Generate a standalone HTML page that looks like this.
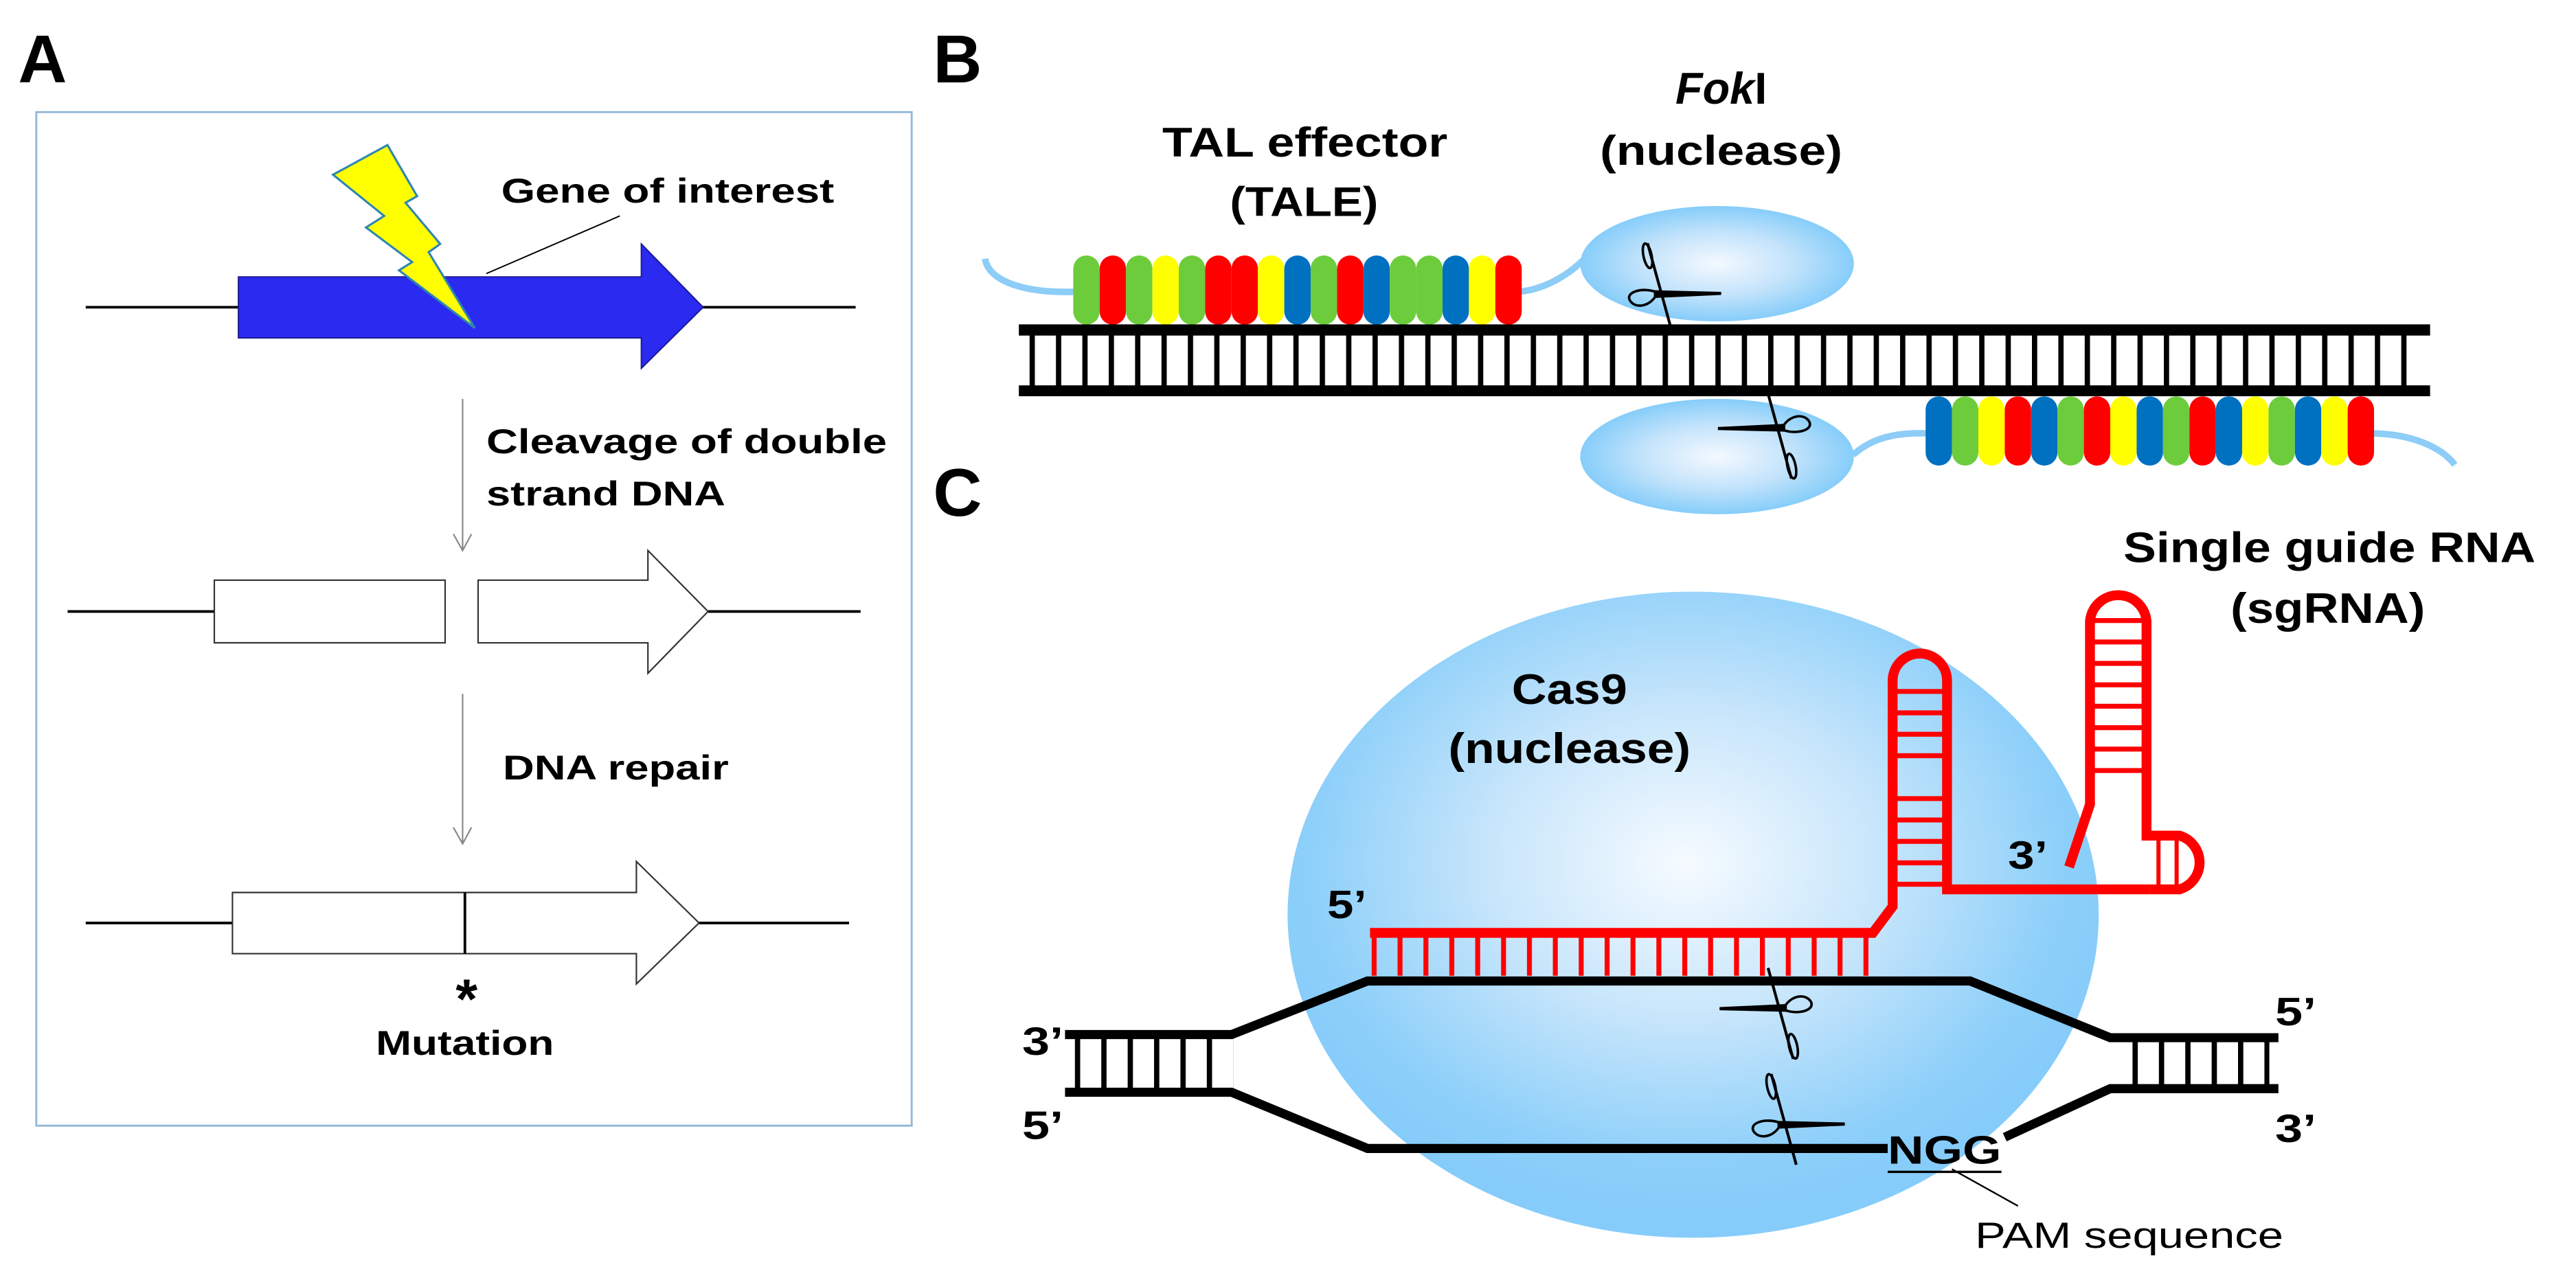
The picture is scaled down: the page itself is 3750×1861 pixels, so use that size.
<!DOCTYPE html>
<html><head><meta charset="utf-8"><style>html,body{margin:0;padding:0;background:#fff}svg{display:block}</style></head>
<body>
<svg width="3750" height="1861" viewBox="0 0 1562.5 775.4" xmlns="http://www.w3.org/2000/svg" font-family="Liberation Sans, Arial, sans-serif" font-weight="bold">
<defs>
<radialGradient id="gb" cx="0.5" cy="0.5" r="0.5"><stop offset="0" stop-color="#f4f9ff"/><stop offset="0.55" stop-color="#c3e3fb"/><stop offset="1" stop-color="#86cdfa"/></radialGradient>
<radialGradient id="gc" cx="0.49" cy="0.42" r="0.55"><stop offset="0" stop-color="#f6fbff"/><stop offset="0.45" stop-color="#c6e5fb"/><stop offset="0.85" stop-color="#8ccffa"/><stop offset="1" stop-color="#86ccfa"/></radialGradient>
<pattern id="rb" x="624.5" y="0" width="16" height="10" patternUnits="userSpaceOnUse"><rect width="3.2" height="10" fill="#000"/></pattern>
<pattern id="rr" x="832" y="0" width="15.7" height="10" patternUnits="userSpaceOnUse"><rect width="3" height="10" fill="#f00"/></pattern>
<pattern id="rl" x="668" y="0" width="16" height="10" patternUnits="userSpaceOnUse"><rect width="3.2" height="10" fill="#000"/></pattern>
<pattern id="rh" x="0" y="418" width="10" height="13" patternUnits="userSpaceOnUse"><rect width="10" height="3" fill="#f00"/></pattern>
<pattern id="rh2" x="0" y="375" width="10" height="13" patternUnits="userSpaceOnUse"><rect width="10" height="3" fill="#f00"/></pattern>
<g id="sc" fill="none" stroke="#000" stroke-width="1.6">
<line x1="-7" y1="-32" x2="9" y2="26" stroke-width="1.8"/>
<ellipse cx="-7" cy="-24" rx="2.6" ry="8" transform="rotate(-12 -7 -24)"/>
<path d="M-3 -2 L40 -1 L40 1 L-3 3 Z" fill="#000" stroke="none"/>
<path d="M-2 -1 C-10 -4 -22 -1 -18 5 C-14 10 -6 8 -2 2"/>
</g>
</defs>

<!-- Panel A -->
<text x="11" y="50" font-size="41">A</text>
<rect x="22" y="68" width="531" height="615" fill="none" stroke="#93b8d8" stroke-width="1.2"/>
<line x1="52" y1="186.4" x2="145" y2="186.4" stroke="#000" stroke-width="1.6"/>
<line x1="426" y1="186.4" x2="519" y2="186.4" stroke="#000" stroke-width="1.6"/>
<polygon points="144.6,168 389,168 389,148 426.5,186.4 389,223.5 389,205 144.6,205" fill="#2a2af0" stroke="#1a1a90" stroke-width="0.8"/>
<polygon points="202,106 235,88 253,119 246,123 267,148 260,153 288,199 242,164 250,159 222,138 233,131" fill="#ffff00" stroke="#2e86b0" stroke-width="1.3"/>
<line x1="376" y1="131" x2="295" y2="166" stroke="#000" stroke-width="0.8"/>
<text x="304" y="123" font-size="21" textLength="202" lengthAdjust="spacingAndGlyphs">Gene of interest</text>
<line x1="280.6" y1="242" x2="280.6" y2="334" stroke="#888" stroke-width="0.9"/>
<polyline points="275,324 280.6,334 286,324" fill="none" stroke="#888" stroke-width="0.9"/>
<text x="295" y="275" font-size="21" textLength="243" lengthAdjust="spacingAndGlyphs">Cleavage of double</text>
<text x="295" y="306.6" font-size="21" textLength="145" lengthAdjust="spacingAndGlyphs">strand DNA</text>
<line x1="41" y1="371" x2="130" y2="371" stroke="#000" stroke-width="1.6"/>
<line x1="429.5" y1="371" x2="522" y2="371" stroke="#000" stroke-width="1.6"/>
<rect x="130" y="352" width="140" height="38" fill="#fff" stroke="#333" stroke-width="0.9"/>
<polygon points="290,352 393,352 393,334 429.5,371 393,408.5 393,390 290,390" fill="#fff" stroke="#333" stroke-width="0.9"/>
<line x1="280.6" y1="421" x2="280.6" y2="512" stroke="#888" stroke-width="0.9"/>
<polyline points="275,502 280.6,512 286,502" fill="none" stroke="#888" stroke-width="0.9"/>
<text x="305" y="473" font-size="21" textLength="137" lengthAdjust="spacingAndGlyphs">DNA repair</text>
<line x1="52" y1="560" x2="141" y2="560" stroke="#000" stroke-width="1.6"/>
<line x1="424" y1="560" x2="515" y2="560" stroke="#000" stroke-width="1.6"/>
<polygon points="141,541.5 386,541.5 386,522.7 424,560 386,597 386,578.6 141,578.6" fill="#fff" stroke="#333" stroke-width="0.9"/>
<line x1="282" y1="541.5" x2="282" y2="578.6" stroke="#000" stroke-width="1.6"/>
<text x="283" y="618" font-size="34" text-anchor="middle">*</text>
<text x="228" y="640" font-size="21" textLength="108" lengthAdjust="spacingAndGlyphs">Mutation</text>

<!-- Panel B -->
<text x="566" y="50" font-size="41">B</text>
<text x="705" y="95" font-size="25" textLength="173" lengthAdjust="spacingAndGlyphs">TAL effector</text>
<text x="791" y="131" font-size="25" text-anchor="middle" textLength="90" lengthAdjust="spacingAndGlyphs">(TALE)</text>
<text x="1044" y="63" font-size="27" font-style="italic" text-anchor="middle">Fok<tspan font-style="normal">I</tspan></text>
<text x="1044" y="100" font-size="25" text-anchor="middle" textLength="147" lengthAdjust="spacingAndGlyphs">(nuclease)</text>
<path d="M597.5 157 C600 172 625 178 652 177" fill="none" stroke="#8dcdf7" stroke-width="4"/>
<path d="M921 177 C935 176 950 168 960 158" fill="none" stroke="#8dcdf7" stroke-width="4"/>
<path d="M1124 276 C1135 266 1150 262 1170 263" fill="none" stroke="#8dcdf7" stroke-width="4"/>
<path d="M1438 263 C1460 263 1480 270 1489 282" fill="none" stroke="#8dcdf7" stroke-width="4"/>
<ellipse cx="1041.5" cy="160" rx="83" ry="35" fill="url(#gb)"/>
<ellipse cx="1041.5" cy="277" rx="83" ry="35" fill="url(#gb)"/>
<g>
<rect x="651" y="155" width="16" height="42" rx="8" fill="#6dcc3c"/>
<rect x="667" y="155" width="16" height="42" rx="8" fill="#ff0000"/>
<rect x="683" y="155" width="16" height="42" rx="8" fill="#6dcc3c"/>
<rect x="699" y="155" width="16" height="42" rx="8" fill="#ffff00"/>
<rect x="715" y="155" width="16" height="42" rx="8" fill="#6dcc3c"/>
<rect x="731" y="155" width="16" height="42" rx="8" fill="#ff0000"/>
<rect x="747" y="155" width="16" height="42" rx="8" fill="#ff0000"/>
<rect x="763" y="155" width="16" height="42" rx="8" fill="#ffff00"/>
<rect x="779" y="155" width="16" height="42" rx="8" fill="#0070c0"/>
<rect x="795" y="155" width="16" height="42" rx="8" fill="#6dcc3c"/>
<rect x="811" y="155" width="16" height="42" rx="8" fill="#ff0000"/>
<rect x="827" y="155" width="16" height="42" rx="8" fill="#0070c0"/>
<rect x="843" y="155" width="16" height="42" rx="8" fill="#6dcc3c"/>
<rect x="859" y="155" width="16" height="42" rx="8" fill="#6dcc3c"/>
<rect x="875" y="155" width="16" height="42" rx="8" fill="#0070c0"/>
<rect x="891" y="155" width="16" height="42" rx="8" fill="#ffff00"/>
<rect x="907" y="155" width="16" height="42" rx="8" fill="#ff0000"/>
</g>
<g>
<rect x="1168" y="240.5" width="16" height="42" rx="8" fill="#0070c0"/>
<rect x="1184" y="240.5" width="16" height="42" rx="8" fill="#6dcc3c"/>
<rect x="1200" y="240.5" width="16" height="42" rx="8" fill="#ffff00"/>
<rect x="1216" y="240.5" width="16" height="42" rx="8" fill="#ff0000"/>
<rect x="1232" y="240.5" width="16" height="42" rx="8" fill="#0070c0"/>
<rect x="1248" y="240.5" width="16" height="42" rx="8" fill="#6dcc3c"/>
<rect x="1264" y="240.5" width="16" height="42" rx="8" fill="#ff0000"/>
<rect x="1280" y="240.5" width="16" height="42" rx="8" fill="#ffff00"/>
<rect x="1296" y="240.5" width="16" height="42" rx="8" fill="#0070c0"/>
<rect x="1312" y="240.5" width="16" height="42" rx="8" fill="#6dcc3c"/>
<rect x="1328" y="240.5" width="16" height="42" rx="8" fill="#ff0000"/>
<rect x="1344" y="240.5" width="16" height="42" rx="8" fill="#0070c0"/>
<rect x="1360" y="240.5" width="16" height="42" rx="8" fill="#ffff00"/>
<rect x="1376" y="240.5" width="16" height="42" rx="8" fill="#6dcc3c"/>
<rect x="1392" y="240.5" width="16" height="42" rx="8" fill="#0070c0"/>
<rect x="1408" y="240.5" width="16" height="42" rx="8" fill="#ffff00"/>
<rect x="1424" y="240.5" width="16" height="42" rx="8" fill="#ff0000"/>
</g>
<rect x="618" y="196.8" width="856" height="6.8" fill="#000"/>
<rect x="618" y="233.8" width="856" height="6.6" fill="#000"/>
<rect x="622" y="203" width="850" height="31" fill="url(#rb)"/>
<use href="#sc" transform="translate(1006,178) scale(0.95)"/>
<use href="#sc" transform="translate(1080,260) rotate(180) scale(0.95)"/>

<!-- Panel C -->
<text x="566" y="313" font-size="41">C</text>
<ellipse cx="1027" cy="555" rx="246" ry="196" fill="url(#gc)"/>
<text x="952" y="427" font-size="26" text-anchor="middle" textLength="70" lengthAdjust="spacingAndGlyphs">Cas9</text>
<text x="952" y="463" font-size="26" text-anchor="middle" textLength="147" lengthAdjust="spacingAndGlyphs">(nuclease)</text>
<text x="1288" y="341" font-size="26" textLength="250" lengthAdjust="spacingAndGlyphs">Single guide RNA</text>
<text x="1412" y="378" font-size="26" text-anchor="middle" textLength="118" lengthAdjust="spacingAndGlyphs">(sgRNA)</text>
<!-- sgRNA -->
<g fill="none" stroke="#f00" stroke-width="6" stroke-linejoin="miter">
<path d="M831 566 L1136 566 L1148 550 L1148 413 A16.4 16.4 0 0 1 1181 413 L1181 539.6 L1304 539.6"/>
<path d="M1255 526 L1267.7 488 L1267.7 377 A17.2 17.2 0 0 1 1302 377 L1302 507 L1322 507 A17 17 0 0 1 1322 539.6 L1304 539.6"/>
</g>
<rect x="831" y="568" width="306" height="24" fill="url(#rr)"/>
<rect x="1150" y="418" width="29" height="43" fill="url(#rh)"/>
<rect x="1150" y="483" width="29" height="56" fill="url(#rh)"/>
<rect x="1270" y="375" width="30" height="99" fill="url(#rh2)"/>
<rect x="1308" y="510" width="2.5" height="28" fill="#f00"/>
<rect x="1319" y="510" width="2.5" height="28" fill="#f00"/>
<text x="1218" y="527" font-size="24" textLength="24" lengthAdjust="spacingAndGlyphs">3’</text>
<text x="805" y="557" font-size="24" textLength="24" lengthAdjust="spacingAndGlyphs">5’</text>
<!-- DNA -->
<g fill="none" stroke="#000" stroke-width="5.5">
<path d="M646 627.7 L747 627.7 L829.5 595.2 L1195 595.2 L1280 629.6 L1382 629.6"/>
<path d="M646 662.7 L747 662.7 L829.5 696.8 L1145 696.8"/>
<path d="M1216 690 L1280 660.5 L1382 660.5"/>
</g>
<rect x="648" y="630" width="100" height="31" fill="url(#rl)"/>
<rect x="1283" y="632" width="92" height="27" fill="url(#rl)" transform="translate(1.5,0)"/>
<use href="#sc" transform="translate(1081,612) rotate(180) scale(0.95)"/>
<use href="#sc" transform="translate(1081,682) scale(0.95)"/>
<text x="620" y="640" font-size="24" textLength="25" lengthAdjust="spacingAndGlyphs">3’</text>
<text x="620" y="691" font-size="24" textLength="25" lengthAdjust="spacingAndGlyphs">5’</text>
<text x="1380" y="622" font-size="24" textLength="25" lengthAdjust="spacingAndGlyphs">5’</text>
<text x="1380" y="693" font-size="24" textLength="25" lengthAdjust="spacingAndGlyphs">3’</text>
<text x="1145" y="706" font-size="24" textLength="69" lengthAdjust="spacingAndGlyphs">NGG</text>
<line x1="1145" y1="711" x2="1214" y2="711" stroke="#000" stroke-width="1.4"/>
<line x1="1184" y1="709.4" x2="1224" y2="731.7" stroke="#000" stroke-width="1"/>
<text x="1198" y="757" font-size="22" font-weight="normal" textLength="187" lengthAdjust="spacingAndGlyphs">PAM sequence</text>
</svg>
</body></html>
